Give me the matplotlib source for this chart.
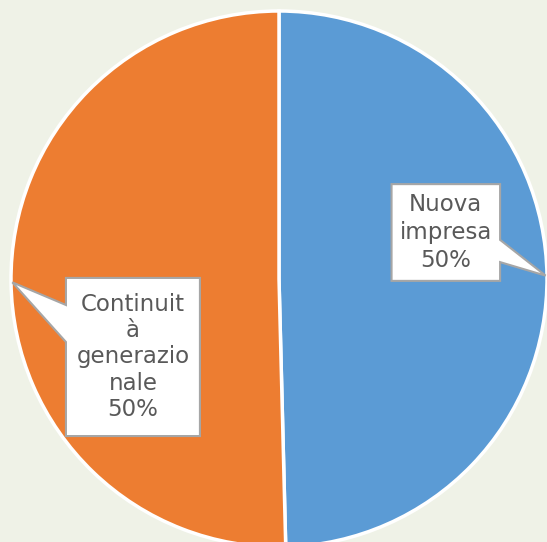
import numpy as np
import matplotlib.pyplot as plt
from matplotlib.patches import Polygon

# data
labels = ['Nuova impresa', 'Continuità generazionale']
box_text = ['Nuova\nimpresa\n50%', 'Continuit\nà\ngenerazio\nnale\n50%']
values = [49.6, 50.4]
colors = ['#5B9BD5', '#ED7D31']

fig = plt.figure(figsize=(5.47, 5.42), dpi=100, facecolor='#EFF2E7')
ax = fig.add_axes([11 / 547, -5 / 542, 536 / 547, 536 / 542])
ax.set_facecolor('none')

wedges, _ = ax.pie(values, colors=colors, startangle=90, counterclock=False,
                   radius=1, wedgeprops=dict(edgecolor='white', linewidth=2.5))
ax.set_xlim(-1, 1)
ax.set_ylim(-1, 1)
ax.set_aspect('equal')
ax.axis('off')

# callout boxes: (x0, x1, y0, y1), pointer side and pointer base
boxes = [
    dict(x0=0.42, x1=0.825, y0=-0.007, y1=0.354, side='right', b=(0.146, 0.063),
         lsp=1.3),
    dict(x0=-0.795, x1=-0.295, y0=-0.586, y1=0.004, side='left', b=(-0.097, -0.235),
         lsp=1.17),
]

for w, bx, txt in zip(wedges, boxes, box_text):
    mid = np.deg2rad((w.theta1 + w.theta2) / 2)
    tip = (np.cos(mid) * 0.995, np.sin(mid) * 0.995)
    x0, x1, y0, y1 = bx['x0'], bx['x1'], bx['y0'], bx['y1']
    b_hi, b_lo = bx['b']
    if bx['side'] == 'right':
        pts = [(x0, y1), (x1, y1), (x1, b_hi), tip, (x1, b_lo), (x1, y0), (x0, y0)]
    else:
        pts = [(x0, y1), (x1, y1), (x1, y0), (x0, y0), (x0, b_lo), tip, (x0, b_hi)]
    ax.add_patch(Polygon(pts, closed=True, facecolor='white', edgecolor='#A6A6A6',
                         linewidth=1.5, zorder=5, clip_on=False))
    ax.text((x0 + x1) / 2, (y0 + y1) / 2, txt, ha='center', va='center',
            fontsize=16.5, color='#595959', linespacing=bx['lsp'], zorder=6)

fig.savefig('out.png', dpi=100, facecolor=fig.get_facecolor())
